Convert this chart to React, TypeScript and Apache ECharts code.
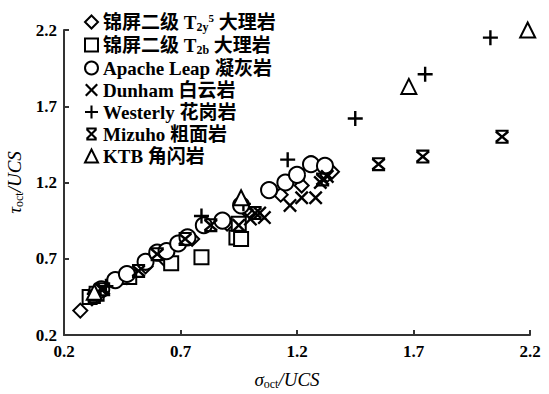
import React, { useEffect, useRef } from "react";
import * as echarts from "echarts";

const seriesNames = [
  "锦屏二级 T2y5 大理岩",
  "锦屏二级 T2b 大理岩",
  "Apache Leap 凝灰岩",
  "Dunham 白云岩",
  "Westerly 花岗岩",
  "Mizuho 粗面岩",
  "KTB 角闪岩",
];

const jinpingT2y5: number[][] = [
  [0.27, 0.36], [0.32, 0.44], [0.36, 0.48], [0.47, 0.58], [0.55, 0.65], [0.63, 0.7],
  [0.75, 0.83], [0.9, 0.93], [0.98, 1.02], [1.13, 1.12], [1.22, 1.18], [1.33, 1.25], [1.35, 1.27],
];
const jinpingT2b: number[][] = [
  [0.31, 0.45], [0.34, 0.47], [0.48, 0.58], [0.66, 0.67], [0.79, 0.71], [0.94, 0.84], [0.96, 0.83], [0.95, 0.93],
];
const apacheLeap: number[][] = [
  [0.36, 0.5], [0.42, 0.56], [0.47, 0.6], [0.55, 0.68], [0.6, 0.74], [0.64, 0.75], [0.69, 0.8],
  [0.73, 0.84], [0.8, 0.92], [0.88, 0.95], [0.96, 1.05], [1.08, 1.15], [1.15, 1.2], [1.2, 1.25],
  [1.26, 1.32], [1.32, 1.31],
];
const dunham: number[][] = [
  [0.33, 0.46], [0.36, 0.5], [0.95, 0.92], [1.0, 0.96], [1.04, 1.0], [1.06, 0.97], [1.17, 1.05],
  [1.22, 1.1], [1.28, 1.1], [1.3, 1.2], [1.33, 1.24],
];
const westerly: number[][] = [
  [0.33, 0.47], [0.38, 0.52], [0.79, 0.98], [0.97, 1.06], [1.16, 1.35], [1.45, 1.62], [1.75, 1.91], [2.03, 2.15],
];
const mizuho: number[][] = [
  [0.33, 0.45], [0.37, 0.5], [0.52, 0.62], [0.6, 0.73], [0.72, 0.83], [0.83, 0.92], [1.02, 1.0],
  [1.31, 1.22], [1.55, 1.32], [1.74, 1.37], [2.08, 1.5],
];
const ktb: number[][] = [
  [0.33, 0.48], [0.96, 1.1], [1.68, 1.83], [2.19, 2.2],
];

const CROSS = "path://M0,2.4 L2.4,0 L10,7.6 L17.6,0 L20,2.4 L12.4,10 L20,17.6 L17.6,20 L10,12.4 L2.4,20 L0,17.6 L7.6,10 Z";
const PLUS = "path://M8.4,0 H11.6 V8.4 H20 V11.6 H11.6 V20 H8.4 V11.6 H0 V8.4 H8.4 Z";
const STAR = "path://M1.5,3.8 L3.8,1.5 L10,7.7 L16.2,1.5 L18.5,3.8 L12.3,10 L18.5,16.2 L16.2,18.5 L10,12.3 L3.8,18.5 L1.5,16.2 L7.7,10 Z M2,0 H18 V3 H2 Z M2,17 H18 V20 H2 Z";

const FONT = "'Liberation Serif', 'Noto Sans CJK SC', serif";

export default function App() {
  const ref = useRef<HTMLDivElement>(null);
  useEffect(() => {
    const chart = echarts.init(ref.current!, null, { renderer: "svg" });
    const hollow = { color: "#fff", borderColor: "#000", borderWidth: 2, opacity: 1 };
    const filled = { color: "#000", borderWidth: 0, opacity: 1 };
    const defs = [
      { data: jinpingT2y5, symbol: "diamond", size: 14, style: hollow },
      { data: jinpingT2b, symbol: "rect", size: 14, style: hollow },
      { data: apacheLeap, symbol: "circle", size: 16, style: hollow },
      { data: dunham, symbol: CROSS, size: 14, style: filled },
      { data: westerly, symbol: PLUS, size: 15, style: filled },
      { data: mizuho, symbol: STAR, size: 14, style: filled },
      { data: ktb, symbol: "triangle", size: 15, style: hollow },
    ];
    const sub = { fontSize: 12, fontWeight: "bold", fontFamily: FONT, color: "#000", padding: [9, 0, 0, 0] };
    const sup = { fontSize: 11, fontWeight: "bold", fontFamily: FONT, color: "#000", padding: [0, 0, 9, 0] };
    const nameRich = {
      i: { fontSize: 19, fontStyle: "italic", fontFamily: FONT, color: "#000" },
      s: { fontSize: 12, fontFamily: FONT, color: "#000", padding: [9, 0, 0, 0] },
    };
    chart.setOption({
      animation: false,
      backgroundColor: "#fff",
      grid: { left: 64, right: 19, top: 30, bottom: 59, containLabel: false, outerBoundsMode: "none" },
      legend: {
        orient: "vertical",
        left: 79,
        top: 7,
        itemWidth: 13,
        itemHeight: 13,
        itemGap: 3,
        data: seriesNames,
        textStyle: {
          fontSize: 19,
          fontWeight: "bold",
          fontFamily: FONT,
          color: "#000",
          lineHeight: 19,
          rich: { sub, sup },
        },
        formatter: (name: string) => {
          if (name === seriesNames[0]) return "锦屏二级 T{sub|2y}{sup|5} 大理岩";
          if (name === seriesNames[1]) return "锦屏二级 T{sub|2b} 大理岩";
          return name;
        },
      },
      xAxis: {
        type: "value",
        min: 0.2,
        max: 2.2,
        interval: 0.5,
        name: "{i|σ}{s|oct}{i|/UCS}",
        nameLocation: "middle",
        nameGap: 34,
        nameTextStyle: { rich: nameRich, padding: [0, 20, 0, 0] },
        axisLine: { lineStyle: { color: "#333", width: 2 } },
        axisTick: { inside: true, length: 5, lineStyle: { color: "#333", width: 2 } },
        axisLabel: {
          fontSize: 17, fontWeight: "bold", fontFamily: FONT, color: "#000", margin: 8,
          formatter: (v: number) => v.toFixed(1),
        },
        splitLine: { show: false },
      },
      yAxis: {
        type: "value",
        min: 0.2,
        max: 2.2,
        interval: 0.5,
        name: "{i|τ}{s|oct}{i|/UCS}",
        nameLocation: "middle",
        nameGap: 30,
        nameTextStyle: { rich: nameRich },
        axisLine: { show: true, lineStyle: { color: "#333", width: 2 } },
        axisTick: { show: true, inside: true, length: 5, lineStyle: { color: "#333", width: 2 } },
        axisLabel: {
          fontSize: 17, fontWeight: "bold", fontFamily: FONT, color: "#000", margin: 7,
          formatter: (v: number) => v.toFixed(1),
        },
        splitLine: { show: false },
      },
      series: defs.map((d, i) => ({
        name: seriesNames[i],
        type: "scatter",
        data: d.data,
        symbol: d.symbol,
        symbolSize: d.size,
        itemStyle: d.style,
        emphasis: { disabled: true },
        clip: false,
        z: 2 + i,
      })),
    });
    return () => chart.dispose();
  }, []);
  return (
    <div
      ref={ref}
      style={{ position: "absolute", left: 0, top: 0, width: 549, height: 394 }}
    />
  );
}
